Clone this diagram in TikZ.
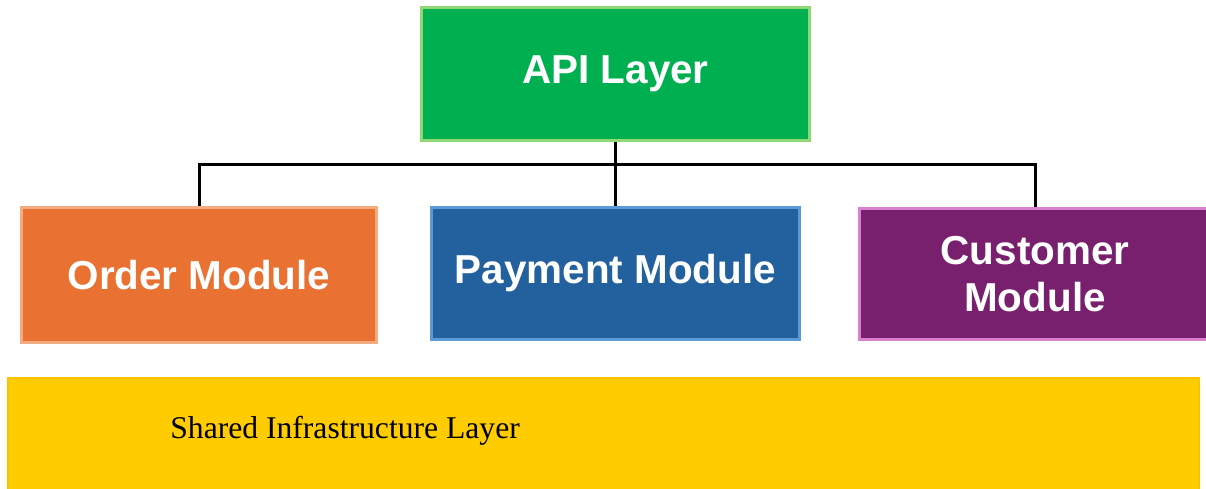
\documentclass[tikz,border=0pt]{standalone}
\usepackage{fontspec}
\usepackage{xcolor}
\usepackage{tikz}
\setmainfont{Liberation Serif}
\newfontfamily\boxfont{Liberation Sans}

\definecolor{apigreen}{HTML}{00B050}
\definecolor{apiedge}{HTML}{8FD873}
\definecolor{orderfill}{HTML}{E97132}
\definecolor{orderedge}{HTML}{F4AB80}
\definecolor{payfill}{HTML}{22619D}
\definecolor{payedge}{HTML}{5B9BD5}
\definecolor{custfill}{HTML}{78206E}
\definecolor{custedge}{HTML}{D981D0}
\definecolor{infrafill}{HTML}{FFCC00}
\definecolor{infraedge}{HTML}{FFC000}

\tikzset{
  modbox/.style={draw, line width=0.06cm, text=white, align=center,
    font=\boxfont\bfseries\fontsize{23}{27}\selectfont, inner sep=0pt},
  bus/.style={line width=0.06cm, draw=black}
}

\begin{document}
\begin{tikzpicture}[x=0.02cm,y=-0.02cm]
\useasboundingbox (0,0) rectangle (1206,488);

% api on top
\node[modbox, fill=apigreen, draw=apiedge, minimum width=7.78cm, minimum height=2.68cm] (api) at (615.5,74) {API Layer};

% the three modules
\node[modbox, fill=orderfill, draw=orderedge, minimum width=7.12cm, minimum height=2.72cm] (order) at (199,275) {Order Module};
\node[modbox, fill=payfill, draw=payedge, minimum width=7.38cm, minimum height=2.66cm] (payment) at (615.5,273.5) {Payment Module};
\node[modbox, fill=custfill, draw=custedge, minimum width=7.04cm, minimum height=2.64cm] (customer) at (1035,274) {Customer\\Module};

% shared layer
\fill[infrafill] (8,378) rectangle (1199,495);
\draw[infraedge, line width=0.04cm] (8,495) -- (8,378) -- (1199,378) -- (1199,495);
\node[anchor=west, font=\fontsize{18}{22}\selectfont, inner sep=0pt] (infra) at (170,431) {Shared Infrastructure Layer};

% connectors
\coordinate (busmid) at (615.5,164);
\draw[bus] (api.south) -- (payment.north);
\draw[bus] (order.north) |- (busmid) -| (customer.north);
\end{tikzpicture}
\end{document}
